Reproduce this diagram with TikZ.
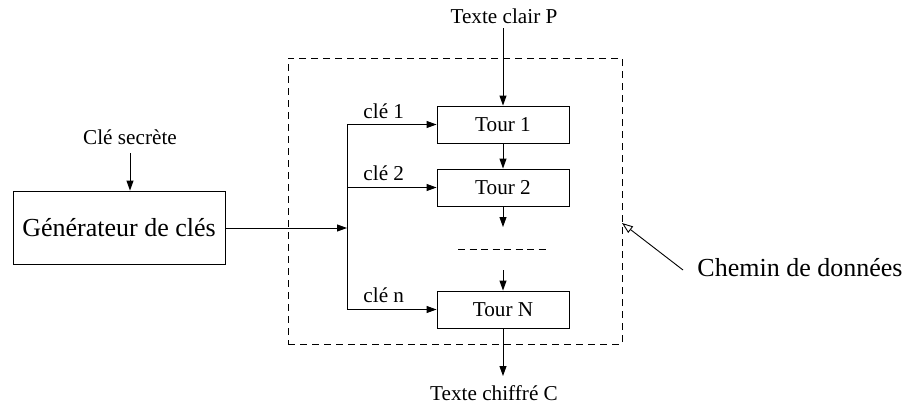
\documentclass[tikz,border=0pt]{standalone}
\usepackage{fontspec}
\setmainfont{Liberation Serif}
\usetikzlibrary{arrows.meta}
\begin{document}
\begin{tikzpicture}[x=1pt,y=-1pt,
  line width=0.9pt,
  small/.style={font=\fontsize{21.2}{25}\selectfont, inner sep=0pt},
  big/.style={font=\fontsize{26}{30}\selectfont, inner sep=0pt},
  block/.style={draw, rectangle, inner sep=0pt},
  tourbox/.style={block, small, minimum width=132pt, minimum height=37pt},
  arr/.style={-{Triangle[length=10pt,width=7pt]}},
  openarr/.style={-{Triangle[open,length=11pt,width=8pt]}},
  frame/.style={draw, dash pattern=on 7pt off 5pt, inner sep=0pt},
]
\useasboundingbox (0,0) rectangle (905,408);

% data path frame
\node[frame, minimum width=334pt, minimum height=286pt] (dp) at (455,201) {};

% rounds
\node[tourbox] (t1) at (503,124.5) {Tour 1};
\node[tourbox] (t2) at (503,187.5) {Tour 2};
\node[tourbox] (tN) at (503,309.5) {Tour N};

% key generator
\node[block, big, minimum width=212pt, minimum height=73pt] (gen) at (119,227.5) {Générateur de clés};
\node[small] (secret) at (130,137) {Clé secrète};
\draw[arr] (130,153) -- (gen.north -| 130,0);

% plaintext / ciphertext
\node[small] (plain) at (504,16) {Texte clair P};
\node[small, anchor=north] (cipher) at (494,385) {Texte chiffré C};
\draw[arr] (503,28) -- (t1.north);
\draw[arr] (tN.south) -- (503,376);

% key bus
\coordinate (j) at (347,228);
\draw[arr] (gen.east |- j) -- (j);
\draw (347,124.5) -- (347,309.5);
\draw[arr] (347,124.5) -- (t1.west);
\draw[arr] (347,187.5) -- (t2.west);
\draw[arr] (347,309.5) -- (tN.west);
\node[small, anchor=base west] (k1) at (363,118) {clé 1};
\node[small, anchor=base west] (k2) at (363,180) {clé 2};
\node[small, anchor=base west] (kn) at (363,302) {clé n};

% chain between rounds
\coordinate (d1) at (503,227);
\coordinate (d2) at (503,270);
\draw[arr] (t1.south) -- (t2.north);
\draw[arr] (t2.south) -- (d1);
\draw[dash pattern=on 7pt off 4.5pt] (458,249) -- (548,249);
\draw[arr] (d2) -- (tN.north);

% data path label
\node[big, anchor=west] (chemin) at (697,268) {Chemin de données};
\coordinate (ctail) at (683,270);
\coordinate (ctip) at (622,223);
\draw[openarr] (ctail) -- (ctip);
\end{tikzpicture}
\end{document}
